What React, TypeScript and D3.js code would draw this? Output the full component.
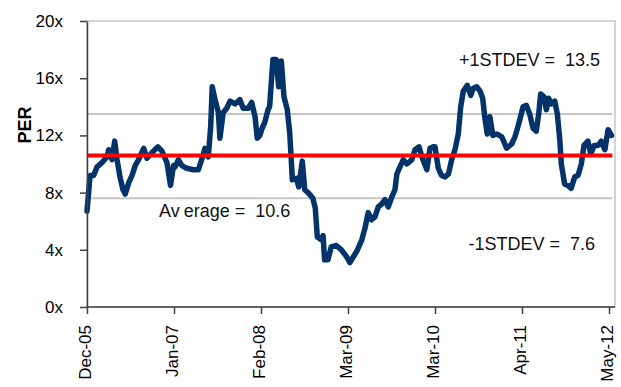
import React, { useEffect, useRef } from "react";
import * as d3 from "d3";

const tickDates = ["2005-12-01", "2007-01-01", "2008-02-01", "2009-03-01", "2010-03-01", "2011-04-01", "2012-05-01"];
const tickLabels = ["Dec-05", "Jan-07", "Feb-08", "Mar-09", "Mar-10", "Apr-11", "May-12"];
const yTicks = [0, 4, 8, 12, 16, 20];

const average = 10.6;
const plusOneSd = 13.5;
const minusOneSd = 7.6;

const dates = [
  "2005-12-01", "2005-12-15", "2005-12-31", "2006-01-16", "2006-02-07", "2006-03-02", "2006-03-10", "2006-03-25",
  "2006-04-06", "2006-04-17", "2006-04-30", "2006-05-14", "2006-05-24", "2006-06-09", "2006-06-24", "2006-07-09",
  "2006-07-24", "2006-08-16", "2006-08-31", "2006-09-23", "2006-10-20", "2006-11-07", "2006-11-30", "2006-12-16",
  "2006-12-30", "2007-01-06", "2007-01-21", "2007-02-05", "2007-02-28", "2007-03-30", "2007-04-22", "2007-05-07",
  "2007-05-22", "2007-06-06", "2007-06-17", "2007-06-24", "2007-07-07", "2007-07-22", "2007-07-29", "2007-08-13",
  "2007-08-29", "2007-09-13", "2007-10-06", "2007-10-28", "2007-11-12", "2007-12-05", "2007-12-21", "2008-01-05",
  "2008-01-15", "2008-01-27", "2008-02-06", "2008-02-18", "2008-03-04", "2008-03-11", "2008-03-26", "2008-04-10",
  "2008-04-21", "2008-05-03", "2008-05-15", "2008-05-30", "2008-06-10", "2008-06-17", "2008-06-22", "2008-07-10",
  "2008-07-21", "2008-08-06", "2008-08-17", "2008-09-01", "2008-09-23", "2008-10-04", "2008-10-13", "2008-10-31",
  "2008-11-08", "2008-11-15", "2008-11-30", "2008-12-15", "2009-01-07", "2009-01-30", "2009-02-23", "2009-03-09",
  "2009-03-23", "2009-04-07", "2009-04-28", "2009-05-11", "2009-05-25", "2009-06-08", "2009-06-22", "2009-07-06",
  "2009-07-20", "2009-08-03", "2009-08-17", "2009-09-01", "2009-09-14", "2009-09-22", "2009-10-05", "2009-10-19",
  "2009-11-03", "2009-11-24", "2009-12-07", "2009-12-24", "2010-01-07", "2010-01-26", "2010-02-08", "2010-02-22",
  "2010-03-01", "2010-03-16", "2010-03-31", "2010-04-16", "2010-05-01", "2010-05-16", "2010-05-31", "2010-06-15",
  "2010-06-26", "2010-07-08", "2010-07-26", "2010-08-11", "2010-08-22", "2010-09-07", "2010-09-22", "2010-10-04",
  "2010-10-15", "2010-10-25", "2010-11-06", "2010-11-19", "2010-12-07", "2010-12-30", "2011-01-21", "2011-02-13",
  "2011-02-28", "2011-03-15", "2011-03-22", "2011-04-06", "2011-04-21", "2011-05-06", "2011-05-21", "2011-06-05",
  "2011-06-16", "2011-06-25", "2011-07-10", "2011-07-21", "2011-07-31", "2011-08-12", "2011-08-28", "2011-09-09",
  "2011-09-20", "2011-09-27", "2011-10-12", "2011-10-27", "2011-11-11", "2011-11-27", "2011-12-12", "2011-12-27",
  "2012-01-08", "2012-01-26", "2012-02-08", "2012-02-23", "2012-03-12", "2012-03-27", "2012-04-12", "2012-04-27",
  "2012-05-12",
];

const per = [
  6.7, 9.2, 9.2, 9.8, 10.1, 10.5, 11.0, 10.3,
  11.6, 10.3, 9.1, 8.2, 7.9, 8.7, 9.2, 9.9,
  10.3, 11.1, 10.4, 10.8, 11.2, 10.9, 10.1, 8.5,
  9.9, 9.8, 10.3, 9.9, 9.7, 9.6, 9.6, 10.3,
  11.1, 10.5, 12.6, 15.4, 14.5, 13.6, 11.8, 13.6,
  13.9, 14.4, 14.2, 14.5, 13.9, 13.9, 14.3, 13.3,
  11.8, 12.0, 12.5, 12.9, 13.8, 14.0, 17.3, 17.3,
  15.4, 17.2, 14.7, 13.8, 12.2, 10.3, 8.9, 9.0,
  8.4, 10.2, 8.2, 8.0, 7.6, 6.9, 4.9, 4.7,
  5.0, 3.3, 3.3, 4.2, 4.3, 4.0, 3.5, 3.1,
  3.5, 3.9, 4.7, 5.5, 6.6, 6.1, 6.3, 7.0,
  7.2, 7.5, 7.0, 7.7, 8.2, 9.3, 9.8, 10.3,
  10.0, 10.3, 11.0, 11.2, 10.4, 9.6, 11.1, 11.2,
  11.2, 9.7, 9.2, 9.1, 9.3, 10.3, 11.0, 12.1,
  14.0, 15.1, 15.5, 14.8, 15.3, 15.4, 15.1, 14.6,
  13.1, 12.1, 13.3, 12.0, 12.1, 11.9, 11.1, 11.4,
  11.9, 12.7, 13.1, 14.0, 14.1, 13.5, 12.5, 12.3,
  13.5, 14.9, 14.7, 13.8, 14.6, 14.2, 14.4, 13.5,
  11.7, 10.0, 8.6, 8.5, 8.3, 9.1, 9.2, 10.0,
  11.3, 11.6, 10.7, 11.3, 11.3, 11.6, 11.0, 12.4,
  12.0,
];

export default function App() {
  const svgRef = useRef<SVGSVGElement>(null);

  useEffect(() => {
    if (!svgRef.current) return;

    const width = 621;
    const height = 387;
    const margin = { top: 21, right: 6, bottom: 80, left: 87 };
    const font = '"Liberation Sans", Arial, sans-serif';
    const axisColor = "#404040";

    const svg = d3.select(svgRef.current);
    svg.selectAll("*").remove();
    svg.attr("width", width).attr("height", height).attr("viewBox", `0 0 ${width} ${height}`);

    const parse = d3.timeParse("%Y-%m-%d");
    const tickX = tickDates.map((d) => parse(d) as Date);
    const right = width - margin.right;
    const lastTickX = right - 6;
    const step = (lastTickX - margin.left) / (tickX.length - 1);

    // category-like axis: tick dates sit evenly spaced
    const x = d3
      .scaleTime()
      .domain(tickX)
      .range(tickX.map((_, i) => margin.left + i * step));

    const y = d3
      .scaleLinear()
      .domain([0, 20])
      .range([height - margin.bottom, margin.top]);

    const bottom = y(0);
    const points = dates.map((d, i) => ({ date: parse(d) as Date, value: per[i] }));
    const lineEnd = x(points[points.length - 1].date) + 1;

    // plot area border
    svg
      .append("rect")
      .attr("x", margin.left)
      .attr("y", margin.top)
      .attr("width", right - margin.left)
      .attr("height", bottom - margin.top)
      .attr("fill", "none")
      .attr("stroke", "#c6c6c6")
      .attr("stroke-width", 1.5);

    // +/- 1 stdev lines
    [plusOneSd, minusOneSd].forEach((v) => {
      svg
        .append("line")
        .attr("x1", margin.left)
        .attr("x2", lineEnd)
        .attr("y1", y(v))
        .attr("y2", y(v))
        .attr("stroke", "#c6c6c6")
        .attr("stroke-width", 2);
    });

    const line = d3
      .line<{ date: Date; value: number }>()
      .x((d) => x(d.date))
      .y((d) => y(d.value));

    svg
      .append("path")
      .datum(points)
      .attr("fill", "none")
      .attr("stroke", "#04336a")
      .attr("stroke-width", 5.5)
      .attr("stroke-linejoin", "round")
      .attr("stroke-linecap", "round")
      .attr("d", line);

    // average line
    svg
      .append("line")
      .attr("x1", margin.left)
      .attr("x2", lineEnd)
      .attr("y1", y(average))
      .attr("y2", y(average))
      .attr("stroke", "#ff0000")
      .attr("stroke-width", 4);

    // y axis
    svg
      .append("g")
      .attr("transform", `translate(${margin.left},0)`)
      .call(
        d3
          .axisLeft(y)
          .tickValues(yTicks)
          .tickSize(7)
          .tickSizeOuter(0)
          .tickPadding(17)
          .tickFormat((d) => `${d}x`)
      )
      .call((g) => {
        g.select(".domain").attr("stroke", axisColor).attr("stroke-width", 1.5);
        g.selectAll(".tick line").attr("stroke", axisColor).attr("stroke-width", 1.5);
        g.selectAll("text").attr("font-size", 17).attr("font-family", font).attr("fill", "#000");
      });

    // x axis
    svg
      .append("g")
      .attr("transform", `translate(0,${bottom})`)
      .call(
        d3
          .axisBottom(x)
          .tickValues(tickX)
          .tickSize(7)
          .tickSizeOuter(0)
          .tickFormat((_, i) => tickLabels[i])
      )
      .call((g) => {
        g.select(".domain").remove();
        g.selectAll(".tick line").attr("stroke", axisColor).attr("stroke-width", 1.5);
        g.selectAll("text")
          .attr("font-size", 17)
          .attr("font-family", font)
          .attr("fill", "#000")
          .attr("transform", "rotate(-90)")
          .attr("text-anchor", "end")
          .attr("x", -18)
          .attr("y", -2)
          .attr("dy", "0.35em");
      });

    svg
      .append("line")
      .attr("x1", margin.left)
      .attr("x2", right)
      .attr("y1", bottom)
      .attr("y2", bottom)
      .attr("stroke", axisColor)
      .attr("stroke-width", 1.5);

    // y title
    svg
      .append("text")
      .attr("transform", `translate(31,${(margin.top + bottom) / 2 - 39}) rotate(-90)`)
      .attr("text-anchor", "middle")
      .attr("font-size", 18)
      .attr("font-weight", "bold")
      .attr("font-family", font)
      .text("PER");

    const label = (tx: number, ty: number, anchor: string) =>
      svg
        .append("text")
        .attr("x", tx)
        .attr("y", ty)
        .attr("text-anchor", anchor)
        .attr("font-size", 18)
        .attr("font-family", font)
        .attr("fill", "#111")
        .attr("xml:space", "preserve")
        .style("white-space", "pre");

    label(600, 66, "end").text(`+1STDEV =  ${plusOneSd}`);
    label(595, 250, "end").text(`-1STDEV =  ${minusOneSd}`);
    const avg = label(159, 217, "start");
    avg.append("tspan").text("Av");
    avg.append("tspan").attr("dx", 4).text(`erage =  ${average}`);
  }, []);

  return <svg ref={svgRef} style={{ position: "absolute", left: 0, top: 0 }} />;
}
